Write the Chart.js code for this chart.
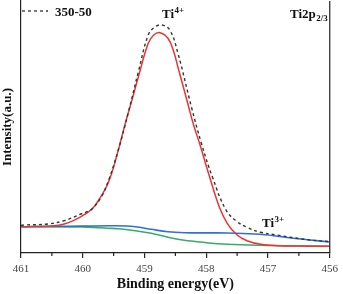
<!DOCTYPE html>
<html>
<head>
<meta charset="UTF-8">
<title>Ti2p XPS fit</title>
<script src="https://cdn.jsdelivr.net/npm/chart.js"></script>
<style>
  html, body { margin: 0; padding: 0; background: #fff; }
  #wrap { width: 343px; height: 294px; position: relative; }
</style>
</head>
<body>
<div id="wrap"><canvas id="xps"></canvas></div>
<script>
// measured spectrum (dashed), binding energy in eV and intensity in a.u.
const expEnergy = [461.0, 460.94, 460.57, 460.30, 460.03, 459.93, 459.85, 459.70, 459.58, 459.42, 459.26, 459.10, 458.94, 458.83, 458.72, 458.59, 458.46, 458.24, 458.08, 457.90, 457.68, 457.50, 457.34, 457.12, 456.85, 456.59, 456.32, 456.0];
const expCounts = [27.5, 28, 29, 32.3, 39, 41.3, 44, 56, 73, 104, 141, 181, 218, 226, 228, 223, 200, 146, 110, 76, 43, 31.3, 25.7, 20.7, 18, 15.3, 13, 11.3];

// Ti4+ fitted peak (red)
const ti4Energy = [461.0, 460.8, 460.57, 460.30, 460.03, 459.85, 459.74, 459.58, 459.45, 459.31, 459.18, 459.10, 458.94, 458.85, 458.75, 458.62, 458.53, 458.46, 458.30, 458.20, 458.11, 457.95, 457.79, 457.66, 457.50, 457.34, 457.12, 456.85, 456.5, 456.0];
const ti4Counts = [26.3, 26.4, 26.8, 29, 36.3, 44, 53, 71.3, 97, 129.7, 158, 176, 209.7, 218, 220.3, 214.7, 202, 186.3, 149.7, 127, 110, 77, 46.3, 29.7, 18, 12.3, 8.7, 7.3, 6.9, 6.7];

// Ti3+ component (blue)
const ti3Energy = [461.0, 460.5, 460.0, 459.5, 459.15, 458.89, 458.62, 458.35, 458.0, 457.66, 457.13, 456.59, 456.0];
const ti3Counts = [26.3, 26.6, 26.9, 27.2, 26.3, 23.7, 21.3, 20.3, 20.1, 20, 18.7, 14.7, 11];

// background (green)
const bgEnergy = [461.0, 460.5, 460.0, 459.82, 459.6, 459.42, 459.15, 458.89, 458.46, 458.0, 457.66, 457.0, 456.5, 456.0];
const bgCounts = [26.3, 26.2, 26.0, 25.6, 24.8, 24.3, 22.3, 19.7, 13.7, 10.3, 8.7, 7.5, 7.0, 6.7];

const xTicks = [461, 460, 459, 458, 457, 456];

function pts(xs, ys) { return xs.map((x, i) => ({ x: x, y: ys[i] })); }

const serif = "'Liberation Serif', 'Times New Roman', serif";

// legend, peak labels, minor ticks and right frame
const decor = {
  id: 'decor',
  afterDraw(chart) {
    const ctx = chart.ctx;
    const a = chart.chartArea;
    const xs = chart.scales.x;
    ctx.save();
    ctx.strokeStyle = '#222';
    ctx.lineWidth = 1.2;
    ctx.beginPath();
    ctx.moveTo(a.right, a.top);
    ctx.lineTo(a.right, a.bottom);
    ctx.stroke();
    for (let v = 460.5; v > 456; v -= 1) {
      const px = xs.getPixelForValue(v);
      ctx.beginPath();
      ctx.moveTo(px, a.bottom);
      ctx.lineTo(px, a.bottom + 3);
      ctx.stroke();
    }
    // legend
    ctx.strokeStyle = '#333';
    ctx.lineWidth = 1.3;
    ctx.setLineDash([3, 3]);
    ctx.beginPath();
    ctx.moveTo(a.left + 1, 11);
    ctx.lineTo(a.left + 27, 11);
    ctx.stroke();
    ctx.setLineDash([]);
    ctx.fillStyle = '#111';
    ctx.textBaseline = 'alphabetic';
    ctx.font = 'bold 13px ' + serif;
    ctx.fillText('350-50', a.left + 34, 16);

    function sup(txt, s, x, y, dy) {
      ctx.font = 'bold 13px ' + serif;
      ctx.fillText(txt, x, y);
      const w = ctx.measureText(txt).width;
      ctx.font = 'bold 9px ' + serif;
      ctx.fillText(s, x + w + 0.5, y + dy);
    }
    sup('Ti', '4+', 162, 18, -5);
    sup('Ti', '3+', 262, 226.5, -5);
    sup('Ti2p', '2/3', 290, 18, 3);
    ctx.restore();
  }
};

new Chart(document.getElementById('xps'), {
  type: 'line',
  data: {
    datasets: [
      { label: '350-50', data: pts(expEnergy, expCounts), borderColor: '#333', borderWidth: 1.4, borderDash: [3, 3], order: 0 },
      { label: 'Ti4+', data: pts(ti4Energy, ti4Counts), borderColor: '#ee3333', borderWidth: 1.5, order: 1 },
      { label: 'Ti3+', data: pts(ti3Energy, ti3Counts), borderColor: '#2f6fd6', borderWidth: 1.6, order: 2 },
      { label: 'Background', data: pts(bgEnergy, bgCounts), borderColor: '#3aaa6a', borderWidth: 1.6, order: 3 }
    ]
  },
  options: {
    responsive: true,
    maintainAspectRatio: false,
    animation: false,
    layout: { padding: { top: 1, right: 9.5, left: 0, bottom: 0 } },
    elements: {
      point: { radius: 0 },
      line: { tension: 0.4, fill: false }
    },
    plugins: { legend: { display: false }, tooltip: { enabled: false } },
    scales: {
      x: {
        type: 'linear',
        reverse: true,
        min: 456,
        max: 461,
        afterBuildTicks(scale) { scale.ticks = xTicks.map(v => ({ value: v })); },
        afterFit(scale) { scale.height = 41; },
        ticks: {
          font: { family: serif, size: 11 },
          color: '#444',
          padding: 5,
          maxRotation: 0
        },
        grid: { drawOnChartArea: false, drawTicks: true, tickLength: 5, color: '#222', lineWidth: 1.2 },
        border: { display: true, color: '#222', width: 1.2 },
        title: {
          display: true,
          text: 'Binding energy(eV)',
          font: { family: serif, size: 14, weight: 'bold' },
          color: '#111',
          padding: { top: 0, bottom: 1 }
        }
      },
      y: {
        min: 0,
        max: 252,
        afterFit(scale) { scale.width = 21; },
        ticks: { display: false },
        grid: { drawOnChartArea: false, drawTicks: false },
        border: { display: true, color: '#222', width: 1.2 },
        title: {
          display: true,
          text: 'Intensity(a.u.)',
          font: { family: serif, size: 13, weight: 'bold', lineHeight: 1.1 },
          color: '#111',
          padding: { top: 0, bottom: 0 }
        }
      }
    }
  },
  plugins: [decor]
});
</script>
</body>
</html>
